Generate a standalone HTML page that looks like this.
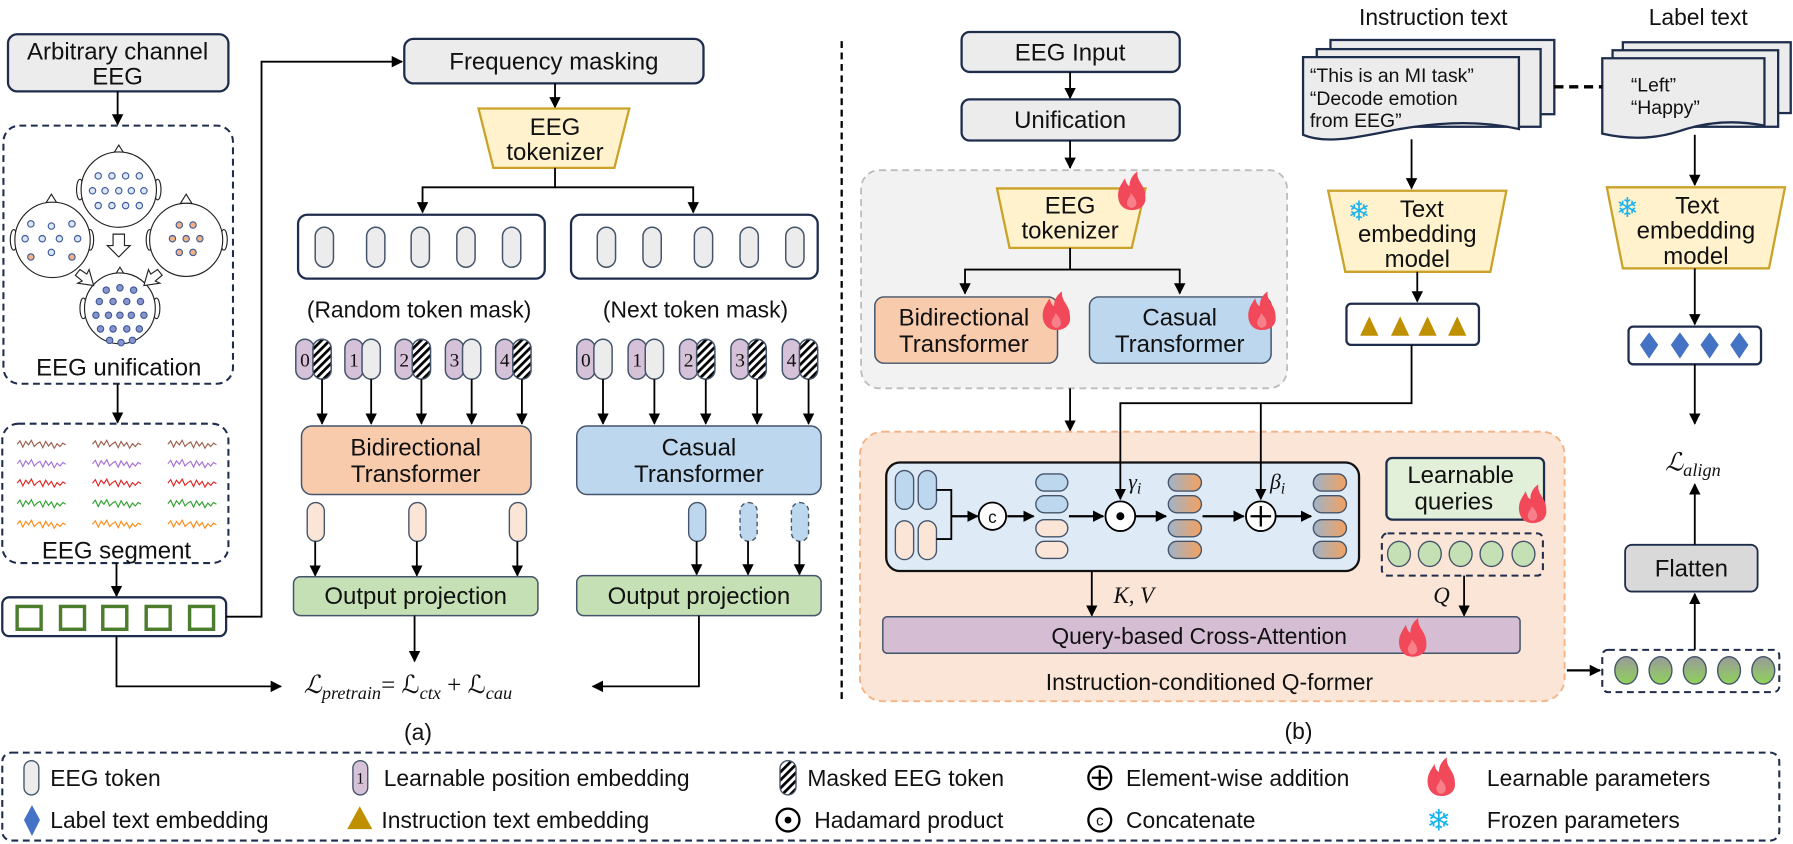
<!DOCTYPE html>
<html><head><meta charset="utf-8"><style>
html,body{margin:0;padding:0;background:#fff;}
svg{display:block;}
text{font-family:"Liberation Sans",Arial,sans-serif;fill:#111;}
.m{font-family:"Liberation Serif","DejaVu Serif",serif;font-style:italic;}
</style></head><body>
<svg width="1793" height="844" viewBox="0 0 1570 739" preserveAspectRatio="none" xmlns="http://www.w3.org/2000/svg">
<defs>
<marker id="ah" markerWidth="10" markerHeight="12" refX="9" refY="5" orient="auto" markerUnits="userSpaceOnUse"><path d="M0,0 L10,5 L0,10 Z" fill="#000"/></marker>
<pattern id="hat" width="5" height="5" patternUnits="userSpaceOnUse" patternTransform="rotate(45)"><rect width="5" height="5" fill="#fff"/><rect width="2.4" height="5" fill="#000"/></pattern>
<linearGradient id="gr" x1="0" x2="1" y1="0" y2="0"><stop offset="0" stop-color="#9fb3c8"/><stop offset="1" stop-color="#f4a15f"/></linearGradient>
<linearGradient id="gc" x1="0" x2="0" y1="0" y2="1"><stop offset="0" stop-color="#9a9a9a"/><stop offset="1" stop-color="#8fd35a"/></linearGradient>
<g id="fire"><path d="M12,34 C4,34 0,28 0,21 C0,14 4,10 6,6 C7,10 8,12 10,13 C10,7 13,3 17,0 C16,6 20,10 22,14 C24,18 24,22 24,24 C24,30 19,34 12,34 Z" fill="#f2495a"/><path d="M12,32 C9,32 7,29 8,26 C9,23 11,22 11,19 C14,22 16,25 16,28 C16,30 14,32 12,32 Z" fill="#f7808a"/></g>
<path id="wv" d="M0,0 l2.5,-3 l2.5,5.5 l2.5,-5 l2.5,3 l2.5,-4 l2.5,5.5 l2.5,-2.5 l2.5,-1.5 l2.5,5 l2.5,-5.5 l2.5,4 l2.5,-3 l2.5,5 l2.5,-4 l2.5,2.5 l2.5,-3 l2.5,1.5" fill="none" stroke-width="1"/>
<g id="tok"><rect x="0" y="0" width="16" height="35" rx="8" fill="#ececec" stroke="#44546a" stroke-width="1.3"/></g>
<g id="tokh"><rect x="0" y="0" width="16" height="35" rx="8" fill="url(#hat)" stroke="#44546a" stroke-width="1.3"/></g>
<g id="pos"><rect x="0" y="0" width="16" height="35" rx="8" fill="#d5c1d8" stroke="#44546a" stroke-width="1.3"/></g>
</defs>

<!-- ===== (a) ===== -->
<rect x="7" y="30" width="193" height="50" rx="8" fill="#ececec" stroke="#1f2d4d" stroke-width="2"/>
<text x="103" y="52" font-size="21" text-anchor="middle">Arbitrary channel</text>
<text x="103" y="74" font-size="21" text-anchor="middle">EEG</text>
<line x1="103" y1="80" x2="103" y2="109" stroke="#000" stroke-width="1.6" marker-end="url(#ah)"/>
<rect x="3" y="110" width="201" height="226" rx="14" fill="none" stroke="#1f2d4d" stroke-width="1.8" stroke-dasharray="6 4"/>
<!-- heads -->
<g stroke="#222" stroke-width="1" fill="#fff">
 <path d="M99,135 L104,127 L109,135 Z"/><ellipse cx="70" cy="166" rx="3" ry="9"/><ellipse cx="138" cy="166" rx="3" ry="9"/><circle cx="104" cy="166" r="33"/>
 <path d="M40,178 L45,170 L50,178 Z"/><ellipse cx="12" cy="210" rx="3" ry="9"/><ellipse cx="79" cy="210" rx="3" ry="9"/><circle cx="46" cy="210" r="33"/>
 <path d="M158,178 L163,170 L168,178 Z"/><ellipse cx="131" cy="210" rx="3" ry="9"/><ellipse cx="196" cy="210" rx="3" ry="9"/><circle cx="163" cy="210" r="32"/>
 <path d="M100,242 L105,234 L110,242 Z"/><ellipse cx="73" cy="270" rx="3" ry="9"/><ellipse cx="137" cy="270" rx="3" ry="9"/><circle cx="105" cy="270" r="31"/>
 <path d="M99,205 h10 v10 h5 l-10,10 l-10,-10 h5 Z"/>
 <path d="M70,236 l6,4 l2,-4 l4,14 l-14,-2 l4,-2 l-6,-5 Z"/>
 <path d="M138,236 l-6,4 l-2,-4 l-4,14 l14,-2 l-4,-2 l6,-5 Z"/>
</g>
<g fill="#dbe7f5" stroke="#3d5a99" stroke-width="1">
 <circle cx="86" cy="154" r="2.8"/><circle cx="98" cy="154" r="2.8"/><circle cx="110" cy="154" r="2.8"/><circle cx="122" cy="154" r="2.8"/>
 <circle cx="81" cy="167" r="2.8"/><circle cx="92" cy="167" r="2.8"/><circle cx="104" cy="167" r="2.8"/><circle cx="115" cy="167" r="2.8"/><circle cx="126" cy="167" r="2.8"/>
 <circle cx="86" cy="180" r="2.8"/><circle cx="98" cy="180" r="2.8"/><circle cx="110" cy="180" r="2.8"/><circle cx="122" cy="180" r="2.8"/>
 <circle cx="27" cy="196" r="2.8"/><circle cx="45" cy="198" r="2.8"/><circle cx="63" cy="196" r="2.8"/><circle cx="22" cy="209" r="2.8"/><circle cx="37" cy="209" r="2.8"/><circle cx="52" cy="209" r="2.8"/><circle cx="68" cy="209" r="2.8"/><circle cx="45" cy="221" r="2.8"/>
</g>
<g fill="#f4b183" stroke="#3d5a99" stroke-width="1">
 <circle cx="27" cy="225" r="2.8"/><circle cx="63" cy="225" r="2.8"/>
 <circle cx="157" cy="197" r="2.8"/><circle cx="169" cy="197" r="2.8"/><circle cx="151" cy="209" r="2.8"/><circle cx="163" cy="209" r="2.8"/><circle cx="175" cy="209" r="2.8"/><circle cx="157" cy="221" r="2.8"/><circle cx="169" cy="221" r="2.8"/>
</g>
<g fill="#8a94cc" stroke="#3d5a99" stroke-width="1">
 <circle cx="93" cy="254" r="2.8"/><circle cx="105" cy="252" r="2.8"/><circle cx="117" cy="254" r="2.8"/>
 <circle cx="87" cy="264" r="2.8"/><circle cx="99" cy="264" r="2.8"/><circle cx="111" cy="264" r="2.8"/><circle cx="123" cy="264" r="2.8"/>
 <circle cx="84" cy="276" r="2.8"/><circle cx="95" cy="276" r="2.8"/><circle cx="105" cy="276" r="2.8"/><circle cx="115" cy="276" r="2.8"/><circle cx="126" cy="276" r="2.8"/>
 <circle cx="88" cy="288" r="2.8"/><circle cx="99" cy="288" r="2.8"/><circle cx="111" cy="288" r="2.8"/><circle cx="122" cy="288" r="2.8"/>
 <circle cx="96" cy="298" r="2.8"/><circle cx="106" cy="300" r="2.8"/><circle cx="116" cy="298" r="2.8"/>
</g>
<text x="104" y="329" font-size="21" text-anchor="middle">EEG unification</text>
<line x1="103" y1="336" x2="103" y2="370" stroke="#000" stroke-width="1.6" marker-end="url(#ah)"/>
<rect x="2" y="371" width="198" height="122" rx="14" fill="none" stroke="#1f2d4d" stroke-width="1.8" stroke-dasharray="6 4"/>
<g>
 <use href="#wv" x="15" y="389" stroke="#9b5e4c"/><use href="#wv" x="81" y="389" stroke="#9b5e4c"/><use href="#wv" x="147" y="389" stroke="#9b5e4c"/>
 <use href="#wv" x="15" y="406" stroke="#a66fd6"/><use href="#wv" x="81" y="406" stroke="#a66fd6"/><use href="#wv" x="147" y="406" stroke="#a66fd6"/>
 <use href="#wv" x="15" y="423" stroke="#e02424"/><use href="#wv" x="81" y="423" stroke="#e02424"/><use href="#wv" x="147" y="423" stroke="#e02424"/>
 <use href="#wv" x="15" y="441" stroke="#2ea02e"/><use href="#wv" x="81" y="441" stroke="#2ea02e"/><use href="#wv" x="147" y="441" stroke="#2ea02e"/>
 <use href="#wv" x="15" y="459" stroke="#ff8a14"/><use href="#wv" x="81" y="459" stroke="#ff8a14"/><use href="#wv" x="147" y="459" stroke="#ff8a14"/>
</g>
<text x="102" y="489" font-size="21" text-anchor="middle">EEG segment</text>
<line x1="102" y1="493" x2="102" y2="522" stroke="#000" stroke-width="1.6" marker-end="url(#ah)"/>
<rect x="2" y="523" width="196" height="34" rx="6" fill="#fff" stroke="#1f2d4d" stroke-width="2"/>
<g fill="none" stroke="#4b7d2c" stroke-width="3"><rect x="15" y="531" width="21" height="20"/><rect x="53" y="531" width="21" height="20"/><rect x="90" y="531" width="21" height="20"/><rect x="128" y="531" width="21" height="20"/><rect x="166" y="531" width="21" height="20"/></g>
<path d="M198,540 H229 V54 H352" fill="none" stroke="#000" stroke-width="1.6" marker-end="url(#ah)"/>
<rect x="354" y="34" width="262" height="39" rx="8" fill="#ececec" stroke="#1f2d4d" stroke-width="2"/>
<text x="485" y="61" font-size="21" text-anchor="middle">Frequency masking</text>
<line x1="486" y1="73" x2="486" y2="94" stroke="#000" stroke-width="1.6" marker-end="url(#ah)"/>
<polygon points="419,95 551,95 538,147 432,147" fill="#fff2cc" stroke="#c9a227" stroke-width="2"/>
<text x="486" y="118" font-size="21" text-anchor="middle">EEG</text>
<text x="486" y="140" font-size="21" text-anchor="middle">tokenizer</text>
<path d="M486,147 V164 H370 V186" fill="none" stroke="#000" stroke-width="1.6" marker-end="url(#ah)"/>
<path d="M486,164 H607 V186" fill="none" stroke="#000" stroke-width="1.6" marker-end="url(#ah)"/>
<rect x="261" y="188" width="216" height="56" rx="8" fill="#fff" stroke="#1f2d4d" stroke-width="2"/>
<rect x="500" y="188" width="216" height="56" rx="8" fill="#fff" stroke="#1f2d4d" stroke-width="2"/>
<use href="#tok" x="276" y="199"/><use href="#tok" x="321" y="199"/><use href="#tok" x="360" y="199"/><use href="#tok" x="400" y="199"/><use href="#tok" x="440" y="199"/>
<use href="#tok" x="523" y="199"/><use href="#tok" x="563" y="199"/><use href="#tok" x="608" y="199"/><use href="#tok" x="648" y="199"/><use href="#tok" x="688" y="199"/>
<text x="367" y="278" font-size="20" text-anchor="middle">(Random token mask)</text>
<text x="609" y="278" font-size="20" text-anchor="middle">(Next token mask)</text>
<!-- pairs left -->
<g font-family="Liberation Serif" font-size="17">
<use href="#pos" x="259" y="297"/><use href="#tokh" x="274" y="297"/><text x="267" y="321" text-anchor="middle" style="font-family:'Liberation Serif'">0</text>
<use href="#pos" x="302" y="297"/><use href="#tok" x="317" y="297"/><text x="310" y="321" text-anchor="middle" style="font-family:'Liberation Serif'">1</text>
<use href="#pos" x="346" y="297"/><use href="#tokh" x="361" y="297"/><text x="354" y="321" text-anchor="middle" style="font-family:'Liberation Serif'">2</text>
<use href="#pos" x="390" y="297"/><use href="#tok" x="405" y="297"/><text x="398" y="321" text-anchor="middle" style="font-family:'Liberation Serif'">3</text>
<use href="#pos" x="434" y="297"/><use href="#tokh" x="449" y="297"/><text x="442" y="321" text-anchor="middle" style="font-family:'Liberation Serif'">4</text>
<use href="#pos" x="505" y="297"/><use href="#tok" x="520" y="297"/><text x="513" y="321" text-anchor="middle" style="font-family:'Liberation Serif'">0</text>
<use href="#pos" x="550" y="297"/><use href="#tok" x="565" y="297"/><text x="558" y="321" text-anchor="middle" style="font-family:'Liberation Serif'">1</text>
<use href="#pos" x="595" y="297"/><use href="#tokh" x="610" y="297"/><text x="603" y="321" text-anchor="middle" style="font-family:'Liberation Serif'">2</text>
<use href="#pos" x="640" y="297"/><use href="#tokh" x="655" y="297"/><text x="648" y="321" text-anchor="middle" style="font-family:'Liberation Serif'">3</text>
<use href="#pos" x="685" y="297"/><use href="#tokh" x="700" y="297"/><text x="693" y="321" text-anchor="middle" style="font-family:'Liberation Serif'">4</text>
</g>
<g stroke="#000" stroke-width="1.6" marker-end="url(#ah)">
<line x1="282" y1="332" x2="282" y2="371"/><line x1="325" y1="332" x2="325" y2="371"/><line x1="369" y1="332" x2="369" y2="371"/><line x1="413" y1="332" x2="413" y2="371"/><line x1="457" y1="332" x2="457" y2="371"/>
<line x1="528" y1="332" x2="528" y2="371"/><line x1="573" y1="332" x2="573" y2="371"/><line x1="618" y1="332" x2="618" y2="371"/><line x1="663" y1="332" x2="663" y2="371"/><line x1="708" y1="332" x2="708" y2="371"/>
</g>
<rect x="264" y="373" width="201" height="60" rx="9" fill="#f8cbad" stroke="#44546a" stroke-width="1.3"/>
<text x="364" y="399" font-size="21" text-anchor="middle">Bidirectional</text>
<text x="364" y="422" font-size="21" text-anchor="middle">Transformer</text>
<rect x="505" y="373" width="214" height="60" rx="9" fill="#bdd7ee" stroke="#44546a" stroke-width="1.3"/>
<text x="612" y="399" font-size="21" text-anchor="middle">Casual</text>
<text x="612" y="422" font-size="21" text-anchor="middle">Transformer</text>
<g stroke="#44546a" stroke-width="1.2">
<rect x="269" y="440" width="15" height="34" rx="7.5" fill="#fbe5d6"/><rect x="358" y="440" width="15" height="34" rx="7.5" fill="#fbe5d6"/><rect x="446" y="440" width="15" height="34" rx="7.5" fill="#fbe5d6"/>
<rect x="603" y="440" width="15" height="34" rx="7.5" fill="#bdd7ee"/><rect x="648" y="440" width="15" height="34" rx="7.5" fill="#bdd7ee" stroke-dasharray="4 3"/><rect x="693" y="440" width="15" height="34" rx="7.5" fill="#bdd7ee" stroke-dasharray="4 3"/>
</g>
<g stroke="#000" stroke-width="1.6" marker-end="url(#ah)">
<line x1="276" y1="474" x2="276" y2="504"/><line x1="365" y1="474" x2="365" y2="504"/><line x1="453" y1="474" x2="453" y2="504"/>
<line x1="610" y1="474" x2="610" y2="503"/><line x1="655" y1="474" x2="655" y2="503"/><line x1="700" y1="474" x2="700" y2="503"/>
</g>
<rect x="257" y="505" width="214" height="34" rx="6" fill="#c5e0b4" stroke="#44546a" stroke-width="1.3"/>
<text x="364" y="529" font-size="21" text-anchor="middle">Output projection</text>
<rect x="505" y="504" width="214" height="35" rx="6" fill="#c5e0b4" stroke="#44546a" stroke-width="1.3"/>
<text x="612" y="529" font-size="21" text-anchor="middle">Output projection</text>
<line x1="363" y1="539" x2="363" y2="579" stroke="#000" stroke-width="1.6" marker-end="url(#ah)"/>
<path d="M102,557 V601 H246" fill="none" stroke="#000" stroke-width="1.6" marker-end="url(#ah)"/>
<path d="M612,539 V601 H519" fill="none" stroke="#000" stroke-width="1.6" marker-end="url(#ah)"/>
<text x="266" y="607" font-size="22" class="m">ℒ<tspan font-size="16" dy="5">pretrain</tspan><tspan dy="-5" font-style="normal">= ℒ</tspan><tspan font-size="16" dy="5">ctx</tspan><tspan dy="-5" font-style="normal"> + ℒ</tspan><tspan font-size="16" dy="5">cau</tspan></text>
<text x="366" y="648" font-size="20" text-anchor="middle">(a)</text>

<line x1="737" y1="36" x2="737" y2="615" stroke="#000" stroke-width="2" stroke-dasharray="6 4"/>

<!-- ===== (b) ===== -->
<text x="1255" y="22" font-size="20" text-anchor="middle">Instruction text</text>
<text x="1487" y="22" font-size="20" text-anchor="middle">Label text</text>
<rect x="842" y="28" width="191" height="35" rx="7" fill="#ececec" stroke="#1f2d4d" stroke-width="2"/>
<text x="937" y="53" font-size="21" text-anchor="middle">EEG Input</text>
<line x1="937" y1="63" x2="937" y2="86" stroke="#000" stroke-width="1.6" marker-end="url(#ah)"/>
<rect x="842" y="87" width="191" height="36" rx="7" fill="#ececec" stroke="#1f2d4d" stroke-width="2"/>
<text x="937" y="112" font-size="21" text-anchor="middle">Unification</text>
<line x1="937" y1="123" x2="937" y2="147" stroke="#000" stroke-width="1.6" marker-end="url(#ah)"/>
<rect x="754" y="149" width="373" height="191" rx="16" fill="#f2f2f2" stroke="#bdbdbd" stroke-width="1.6" stroke-dasharray="6 4"/>
<polygon points="873,165 1003,165 991,217 884,217" fill="#fff2cc" stroke="#c9a227" stroke-width="2"/>
<text x="937" y="187" font-size="21" text-anchor="middle">EEG</text>
<text x="937" y="209" font-size="21" text-anchor="middle">tokenizer</text>
<use href="#fire" x="979" y="150"/>
<path d="M937,217 V236 H845 V257" fill="none" stroke="#000" stroke-width="1.6" marker-end="url(#ah)"/>
<path d="M937,236 H1033 V257" fill="none" stroke="#000" stroke-width="1.6" marker-end="url(#ah)"/>
<rect x="766" y="260" width="160" height="58" rx="8" fill="#f8cbad" stroke="#44546a" stroke-width="1.3"/>
<text x="844" y="285" font-size="21" text-anchor="middle">Bidirectional</text>
<text x="844" y="308" font-size="21" text-anchor="middle">Transformer</text>
<use href="#fire" x="913" y="255"/>
<rect x="954" y="260" width="159" height="58" rx="8" fill="#bdd7ee" stroke="#44546a" stroke-width="1.3"/>
<text x="1033" y="285" font-size="21" text-anchor="middle">Casual</text>
<text x="1033" y="308" font-size="21" text-anchor="middle">Transformer</text>
<use href="#fire" x="1093" y="255"/>
<line x1="937" y1="340" x2="937" y2="377" stroke="#000" stroke-width="1.6" marker-end="url(#ah)"/>

<!-- docs -->
<g fill="#ececec" stroke="#1f2d4d" stroke-width="2">
<rect x="1165" y="35" width="196" height="65"/>
<rect x="1153" y="43" width="196" height="68"/>
<path d="M1141,50 H1330 V113 C1290,104 1250,108 1215,115 C1185,121 1160,126 1141,118 Z"/>
<rect x="1421" y="37" width="147" height="62"/>
<rect x="1412" y="44" width="145" height="67"/>
<path d="M1403,51 H1545 V110 C1515,104 1490,108 1470,115 C1448,122 1425,122 1403,117 Z"/>
</g>
<g font-size="17">
<text x="1147" y="72">“This is an MI task”</text>
<text x="1147" y="92">“Decode emotion</text>
<text x="1147" y="111">from EEG”</text>
<text x="1428" y="80">“Left”</text>
<text x="1428" y="100">“Happy”</text>
</g>
<line x1="1361" y1="76" x2="1403" y2="76" stroke="#000" stroke-width="3" stroke-dasharray="8 5"/>
<line x1="1236" y1="122" x2="1236" y2="165" stroke="#000" stroke-width="1.6" marker-end="url(#ah)"/>
<line x1="1484" y1="118" x2="1484" y2="162" stroke="#000" stroke-width="1.6" marker-end="url(#ah)"/>
<polygon points="1163,167 1319,167 1305,238 1178,238" fill="#fff2cc" stroke="#c9a227" stroke-width="2"/>
<text x="1180" y="193" font-size="24" fill="#19b3f0" style="fill:#19b3f0;font-family:'DejaVu Sans',sans-serif">❄</text>
<text x="1245" y="190" font-size="21" text-anchor="middle">Text</text>
<text x="1241" y="212" font-size="21" text-anchor="middle">embedding</text>
<text x="1241" y="234" font-size="21" text-anchor="middle">model</text>
<polygon points="1407,164 1563,164 1549,235 1421,235" fill="#fff2cc" stroke="#c9a227" stroke-width="2"/>
<text x="1415" y="190" font-size="24" style="fill:#19b3f0;font-family:'DejaVu Sans',sans-serif">❄</text>
<text x="1486" y="187" font-size="21" text-anchor="middle">Text</text>
<text x="1485" y="209" font-size="21" text-anchor="middle">embedding</text>
<text x="1485" y="231" font-size="21" text-anchor="middle">model</text>
<line x1="1241" y1="238" x2="1241" y2="264" stroke="#000" stroke-width="1.6" marker-end="url(#ah)"/>
<rect x="1179" y="266" width="116" height="36" rx="4" fill="#fff" stroke="#1f2d4d" stroke-width="2"/>
<g fill="#bf9000"><polygon points="1191,294 1199,277 1207,294"/><polygon points="1218,294 1226,277 1234,294"/><polygon points="1242,294 1250,277 1258,294"/><polygon points="1268,294 1276,277 1284,294"/></g>
<line x1="1484" y1="235" x2="1484" y2="284" stroke="#000" stroke-width="1.6" marker-end="url(#ah)"/>
<rect x="1426" y="286" width="116" height="33" rx="4" fill="#fff" stroke="#1f2d4d" stroke-width="2"/>
<g fill="#4472c4"><polygon points="1444,291 1452,302 1444,314 1436,302"/><polygon points="1471,291 1479,302 1471,314 1463,302"/><polygon points="1497,291 1505,302 1497,314 1489,302"/><polygon points="1523,291 1531,302 1523,314 1515,302"/></g>
<line x1="1484" y1="319" x2="1484" y2="371" stroke="#000" stroke-width="1.6" marker-end="url(#ah)"/>
<text x="1458" y="412" font-size="22" class="m">ℒ<tspan font-size="16" dy="5">align</tspan></text>

<!-- Q-former -->
<rect x="753" y="378" width="617" height="236" rx="20" fill="#fbe5d6" stroke="#f4b183" stroke-width="1.6" stroke-dasharray="6 4"/>
<rect x="776" y="405" width="414" height="95" rx="12" fill="#deebf7" stroke="#111" stroke-width="2"/>
<g stroke="#44546a" stroke-width="1.2">
<rect x="784" y="412" width="16" height="34" rx="8" fill="#bdd7ee"/><rect x="804" y="412" width="16" height="34" rx="8" fill="#bdd7ee"/>
<rect x="784" y="456" width="16" height="34" rx="8" fill="#fbe5d6"/><rect x="804" y="456" width="16" height="34" rx="8" fill="#fbe5d6"/>
<rect x="907" y="415" width="28" height="15" rx="7.5" fill="#bdd7ee"/><rect x="907" y="434" width="28" height="15" rx="7.5" fill="#bdd7ee"/>
<rect x="907" y="455" width="28" height="15" rx="7.5" fill="#fbe5d6"/><rect x="907" y="474" width="28" height="15" rx="7.5" fill="#fbe5d6"/>
<rect x="1023" y="415" width="29" height="15" rx="7.5" fill="url(#gr)"/><rect x="1023" y="434" width="29" height="15" rx="7.5" fill="url(#gr)"/><rect x="1023" y="455" width="29" height="15" rx="7.5" fill="url(#gr)"/><rect x="1023" y="474" width="29" height="15" rx="7.5" fill="url(#gr)"/>
<rect x="1150" y="415" width="29" height="15" rx="7.5" fill="url(#gr)"/><rect x="1150" y="434" width="29" height="15" rx="7.5" fill="url(#gr)"/><rect x="1150" y="455" width="29" height="15" rx="7.5" fill="url(#gr)"/><rect x="1150" y="474" width="29" height="15" rx="7.5" fill="url(#gr)"/>
</g>
<path d="M820,429 H833 V472 H820" fill="none" stroke="#000" stroke-width="1.6"/>
<g stroke="#000" stroke-width="2" marker-end="url(#ah)">
<line x1="833" y1="452" x2="856" y2="452"/><line x1="882" y1="452" x2="905" y2="452"/><line x1="936" y1="452" x2="966" y2="452"/><line x1="994" y1="452" x2="1021" y2="452"/><line x1="1053" y1="452" x2="1089" y2="452"/><line x1="1117" y1="452" x2="1148" y2="452"/>
</g>
<circle cx="869" cy="452" r="12" fill="#fff" stroke="#000" stroke-width="1.6"/><text x="869" y="458" font-size="15" text-anchor="middle">c</text>
<circle cx="981" cy="452" r="13" fill="#fff" stroke="#000" stroke-width="1.6"/><circle cx="981" cy="452" r="3.5" fill="#000"/>
<circle cx="1104" cy="452" r="13" fill="#fff" stroke="#000" stroke-width="1.6"/><path d="M1104,443 V461 M1095,452 H1113" stroke="#000" stroke-width="2"/>
<path d="M1236,302 V353 H981 V437" fill="none" stroke="#000" stroke-width="1.6" marker-end="url(#ah)"/>
<path d="M1104,353 V437" fill="none" stroke="#000" stroke-width="1.6" marker-end="url(#ah)"/>
<text x="988" y="428" font-size="19" class="m">γ<tspan font-size="14" dy="4">i</tspan></text>
<text x="1112" y="428" font-size="19" class="m">β<tspan font-size="14" dy="4">i</tspan></text>
<rect x="1214" y="401" width="138" height="54" rx="5" fill="#e2efd9" stroke="#1f2d4d" stroke-width="2"/>
<text x="1279" y="423" font-size="21" text-anchor="middle">Learnable</text>
<text x="1273" y="446" font-size="21" text-anchor="middle">queries</text>
<use href="#fire" x="1330" y="424"/>
<rect x="1210" y="467" width="141" height="37" rx="5" fill="none" stroke="#1f2d4d" stroke-width="1.8" stroke-dasharray="6 4"/>
<g fill="#c5e0b4" stroke="#44546a" stroke-width="1.2"><ellipse cx="1225" cy="485" rx="10" ry="11"/><ellipse cx="1252" cy="485" rx="10" ry="11"/><ellipse cx="1279" cy="485" rx="10" ry="11"/><ellipse cx="1306" cy="485" rx="10" ry="11"/><ellipse cx="1334" cy="485" rx="10" ry="11"/></g>
<line x1="956" y1="500" x2="956" y2="539" stroke="#000" stroke-width="1.6" marker-end="url(#ah)"/>
<text x="975" y="528" font-size="20" class="m">K, V</text>
<line x1="1282" y1="504" x2="1282" y2="539" stroke="#000" stroke-width="1.6" marker-end="url(#ah)"/>
<text x="1255" y="528" font-size="20" class="m">Q</text>
<rect x="773" y="540" width="558" height="32" rx="4" fill="#d5bdd3" stroke="#44546a" stroke-width="1.3"/>
<text x="1050" y="564" font-size="20" text-anchor="middle">Query-based Cross-Attention</text>
<use href="#fire" x="1225" y="541"/>
<text x="1059" y="604" font-size="20" text-anchor="middle">Instruction-conditioned Q-former</text>
<line x1="1372" y1="587" x2="1401" y2="587" stroke="#000" stroke-width="2" marker-end="url(#ah)"/>
<rect x="1403" y="569" width="155" height="37" rx="5" fill="none" stroke="#1f2d4d" stroke-width="1.8" stroke-dasharray="6 4"/>
<g fill="url(#gc)" stroke="#44546a" stroke-width="1.2"><ellipse cx="1424" cy="587" rx="10" ry="12"/><ellipse cx="1454" cy="587" rx="10" ry="12"/><ellipse cx="1484" cy="587" rx="10" ry="12"/><ellipse cx="1514" cy="587" rx="10" ry="12"/><ellipse cx="1544" cy="587" rx="10" ry="12"/></g>
<line x1="1484" y1="569" x2="1484" y2="520" stroke="#000" stroke-width="1.6" marker-end="url(#ah)"/>
<rect x="1423" y="477" width="116" height="41" rx="6" fill="#d9d9d9" stroke="#1f2d4d" stroke-width="1.6"/>
<text x="1481" y="505" font-size="21" text-anchor="middle">Flatten</text>
<line x1="1484" y1="477" x2="1484" y2="424" stroke="#000" stroke-width="1.6" marker-end="url(#ah)"/>
<text x="1137" y="647" font-size="20" text-anchor="middle">(b)</text>

<!-- legend -->
<rect x="2" y="659" width="1556" height="77" rx="8" fill="none" stroke="#1f2d4d" stroke-width="1.8" stroke-dasharray="6 4"/>
<g font-size="20">
<rect x="21" y="666" width="13" height="30" rx="6.5" fill="#ececec" stroke="#44546a" stroke-width="1.2"/>
<text x="44" y="688">EEG token</text>
<polygon points="28,705 35,718 28,732 21,718" fill="#4472c4"/>
<text x="44" y="725">Label text embedding</text>
<rect x="309" y="666" width="13" height="30" rx="6.5" fill="#d5c1d8" stroke="#44546a" stroke-width="1.2"/>
<text x="315.5" y="686" font-size="14" text-anchor="middle" style="font-family:'Liberation Serif'">1</text>
<text x="336" y="688">Learnable position embedding</text>
<polygon points="304,726 315,706 326,726" fill="#bf9000"/>
<text x="334" y="725">Instruction text embedding</text>
<rect x="683" y="666" width="14" height="30" rx="7" fill="url(#hat)" stroke="#44546a" stroke-width="1.2"/>
<text x="707" y="688">Masked EEG token</text>
<circle cx="690" cy="718" r="10" fill="#fff" stroke="#000" stroke-width="2"/><circle cx="690" cy="718" r="3" fill="#000"/>
<text x="713" y="725">Hadamard product</text>
<circle cx="963" cy="681" r="10" fill="#fff" stroke="#000" stroke-width="2"/><path d="M963,674 V688 M956,681 H970" stroke="#000" stroke-width="2"/>
<text x="986" y="688">Element-wise addition</text>
<circle cx="963" cy="718" r="10" fill="#fff" stroke="#000" stroke-width="2"/><text x="963" y="723" font-size="13" text-anchor="middle">c</text>
<text x="986" y="725">Concatenate</text>
<use href="#fire" x="1250" y="663"/>
<text x="1302" y="688">Learnable parameters</text>
<text x="1249" y="727" font-size="26" style="fill:#19b3f0;font-family:'DejaVu Sans',sans-serif">❄</text>
<text x="1302" y="725">Frozen parameters</text>
</g>
</svg>
</body></html>
